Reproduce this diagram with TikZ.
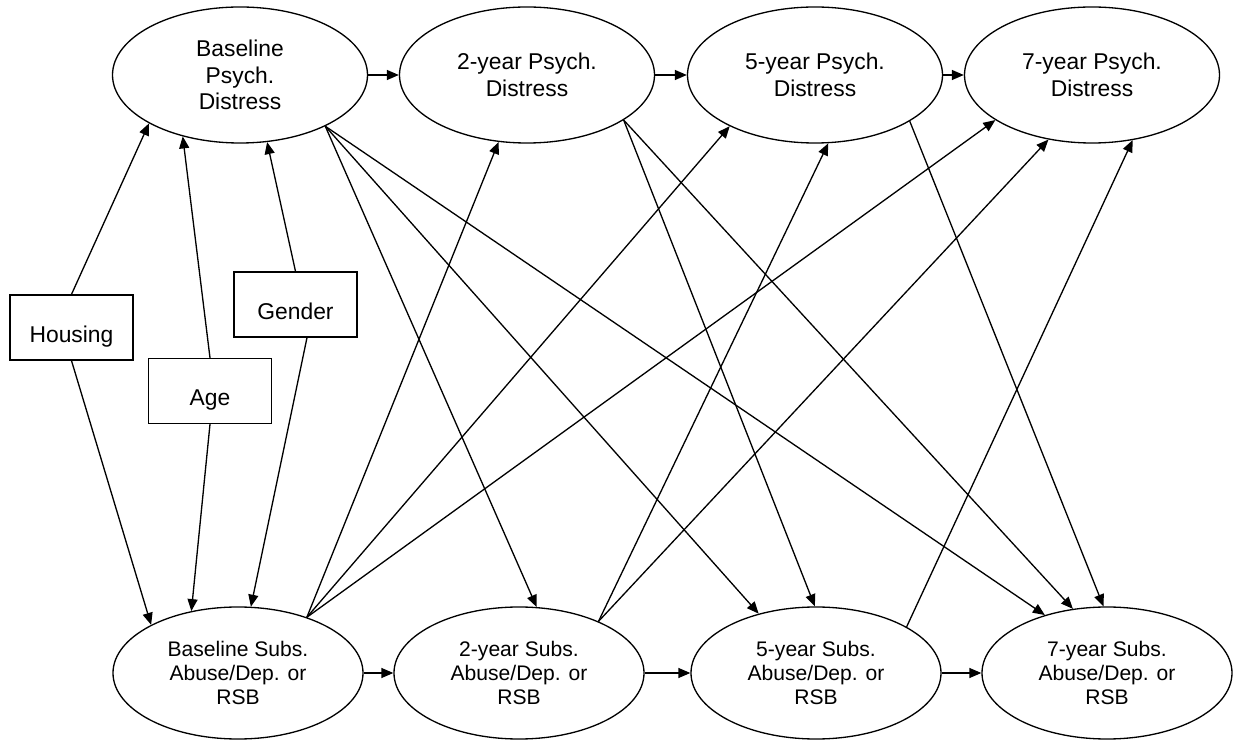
\documentclass[tikz,border=0pt]{standalone}
\usepackage{fontspec}
\setmainfont{Liberation Sans}
\usetikzlibrary{shapes.geometric,arrows.meta}

\begin{document}
\begin{tikzpicture}[
  latent/.style={draw, line width=0.75pt, ellipse, minimum width=5.1cm, minimum height=2.72cm, inner sep=0pt, align=center, font=\fontsize{13}{15.2}\selectfont},
  subsvar/.style={latent, minimum width=5.0cm, minimum height=2.64cm, font=\fontsize{12}{13.7}\selectfont},
  covar/.style={draw, line width=0.75pt, minimum width=2.46cm, minimum height=1.3cm, text height=6mm, text depth=0pt, font=\fontsize{13}{15.2}\selectfont},
  effect/.style={-{Triangle[length=2.4mm,width=2mm]}, line width=0.75pt}]
% Fix the page size
\useasboundingbox (0,0) rectangle (24.7,14.8);
% Psych. distress waves on the top row
\node[latent] (psy0) at (4.80,13.30) {Baseline\\Psych.\\Distress};
\node[latent] (psy2) at (10.54,13.30) {2-year Psych.\\Distress};
\node[latent] (psy5) at (16.30,13.30) {5-year Psych.\\Distress};
\node[latent] (psy7) at (21.84,13.30) {7-year Psych.\\Distress};
% Substance use waves on the bottom row
\node[subsvar] (sub0) at (4.76,1.34) {Baseline Subs.\\Abuse/Dep. or\\RSB};
\node[subsvar] (sub2) at (10.38,1.34) {2-year Subs.\\Abuse/Dep. or\\RSB};
\node[subsvar] (sub5) at (16.32,1.34) {5-year Subs.\\Abuse/Dep. or\\RSB};
\node[subsvar] (sub7) at (22.14,1.34) {7-year Subs.\\Abuse/Dep. or\\RSB};
% Covariate boxes
\node[covar] (housing) at (1.43,8.25) {Housing};
\node[covar] (age) at (4.20,6.98) {Age};
\node[covar] (gender) at (5.91,8.71) {Gender};
% Covariates to baseline psych. distress
\draw[effect] (housing.north) -- (psy0.208);
\draw[effect] (age.north) -- (psy0.227);
\draw[effect] (gender.north) -- (psy0.292);
% Covariates to baseline subs.
\draw[effect] (housing.south) -- (sub0.151);
\draw[effect] (age.south) -- (sub0.127);
\draw[effect] ([xshift=2.3mm]gender.south) -- (sub0.79);
% Stability paths along each row
\draw[effect] (psy0) -- (psy2);
\draw[effect] (psy2) -- (psy5);
\draw[effect] (psy5) -- (psy7);
\draw[effect] (sub0) -- (sub2);
\draw[effect] (sub2) -- (sub5);
\draw[effect] (sub5) -- (sub7);
% Cross-lagged paths, psych. distress to later subs.
\draw[effect] (psy0.-31) -- (sub2.75);
\draw[effect] (psy0.-31) -- (sub5.134);
\draw[effect] (psy0.-31) -- (sub7.137);
\draw[effect] (psy2.-25) -- (sub5.91);
\draw[effect] (psy2.-25) -- (sub7.118);
\draw[effect] (psy5.-26) -- (sub7.93);
% Cross-lagged paths, subs. to later psych. distress
\draw[effect] (sub0.39) -- (psy2.247);
\draw[effect] (sub0.39) -- (psy5.211);
\draw[effect] (sub0.39) -- (psy7.205);
\draw[effect] (sub2.33) -- (psy5.281);
\draw[effect] (sub2.33) -- (psy7.236);
\draw[effect] (sub5.27) -- (psy7.302);
\end{tikzpicture}
\end{document}
